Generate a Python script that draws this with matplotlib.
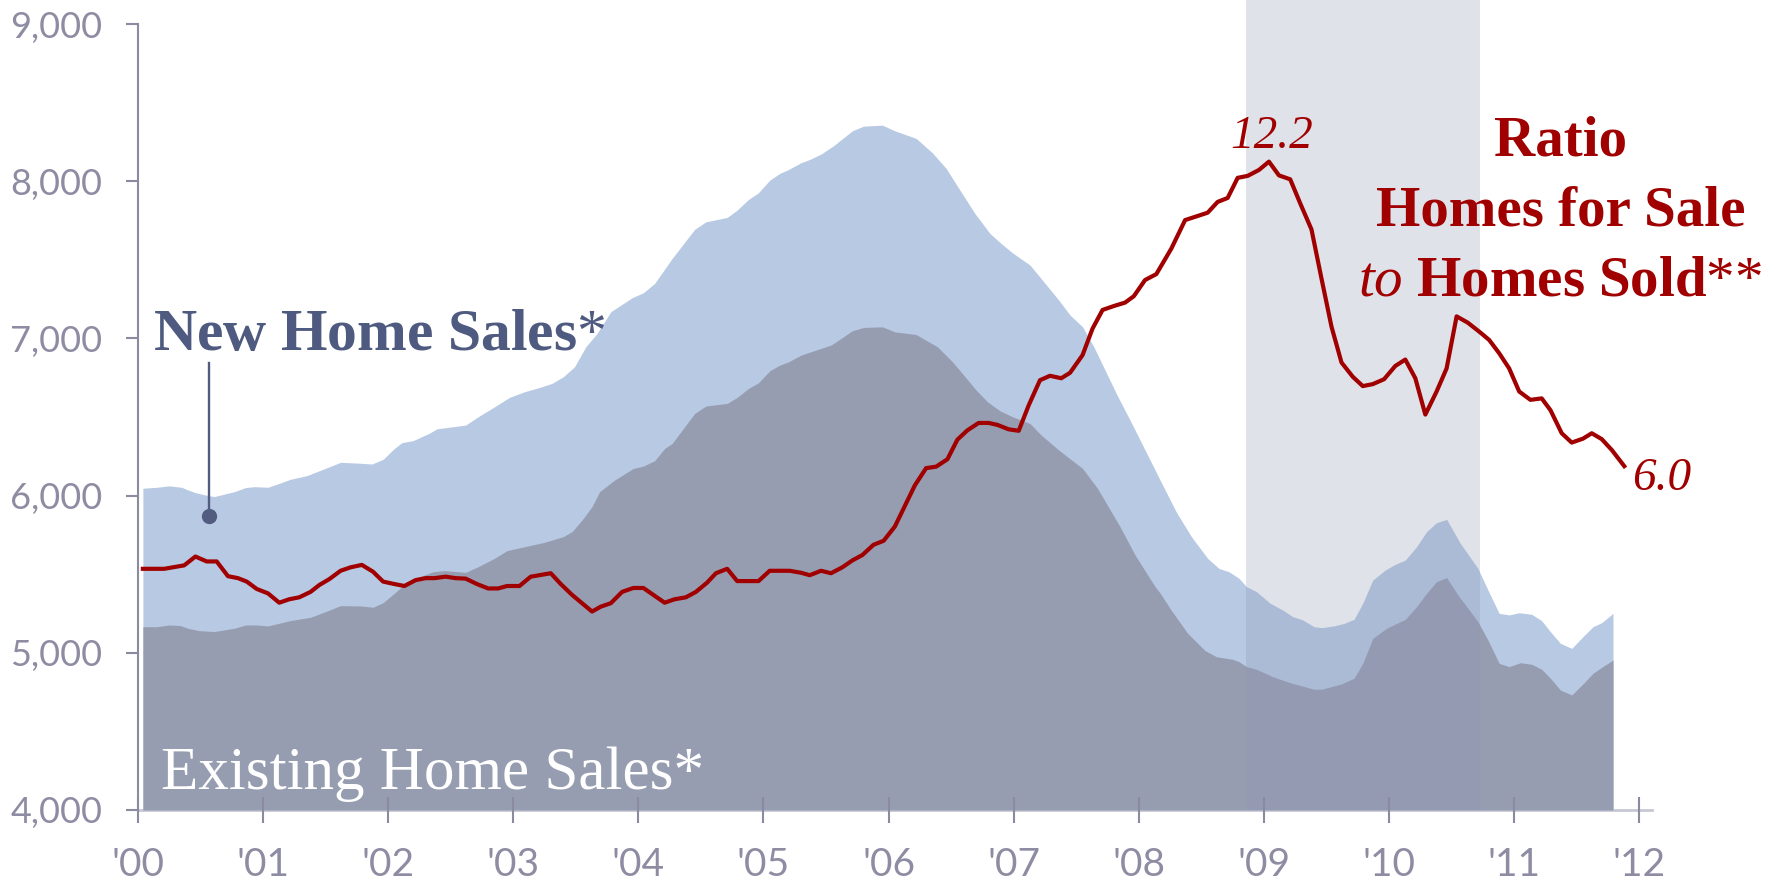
import numpy as np
import matplotlib
matplotlib.use("Agg")
import matplotlib.pyplot as plt

# years since Jan 2000 / sales in thousands (annual rate)
# top of the stack = existing + new home sales
top_t = [0.04, 0.15, 0.25, 0.35, 0.40, 0.46, 0.54, 0.61, 0.77, 0.86, 0.93, 1.04, 1.13, 1.22, 1.35,
         1.50, 1.62, 1.78, 1.87, 1.96, 2.05, 2.11, 2.20, 2.33, 2.39, 2.62, 2.72, 2.85, 2.97, 3.09,
         3.21, 3.31, 3.40, 3.49, 3.58, 3.67, 3.78, 3.95, 4.04, 4.13, 4.27, 4.45, 4.54, 4.71, 4.79,
         4.88, 4.96, 5.05, 5.13, 5.20, 5.30, 5.37, 5.46, 5.56, 5.71, 5.80, 5.95, 6.05, 6.22, 6.35,
         6.46, 6.57, 6.69, 6.81, 6.90, 6.99, 7.13, 7.24, 7.36, 7.45, 7.55, 7.64, 7.82, 7.97, 8.05,
         8.13, 8.17, 8.30, 8.42, 8.55, 8.64, 8.72, 8.80, 8.86, 8.94, 9.05, 9.15, 9.23, 9.31, 9.40,
         9.46, 9.56, 9.64, 9.72, 9.79, 9.87, 9.97, 10.05, 10.13, 10.22, 10.30, 10.38, 10.46, 10.57,
         10.71, 10.79, 10.88, 10.96, 11.04, 11.14, 11.22, 11.29, 11.37, 11.46, 11.55, 11.63, 11.70,
         11.79]
top_v = [6047, 6053, 6062, 6053, 6036, 6019, 6004, 5994, 6025, 6051, 6057, 6053, 6078, 6104, 6127,
         6174, 6212, 6206, 6201, 6231, 6300, 6337, 6350, 6397, 6425, 6449, 6502, 6565, 6625, 6661,
         6688, 6714, 6756, 6820, 6947, 7032, 7170, 7259, 7291, 7350, 7509, 7694, 7742, 7770, 7817,
         7884, 7927, 8007, 8050, 8075, 8118, 8139, 8173, 8226, 8321, 8351, 8357, 8321, 8273, 8181,
         8082, 7944, 7795, 7668, 7604, 7545, 7467, 7361, 7244, 7149, 7074, 6947, 6650, 6417, 6290,
         6163, 6099, 5895, 5739, 5601, 5537, 5516, 5474, 5421, 5389, 5315, 5272, 5230, 5209, 5166,
         5160, 5171, 5187, 5213, 5315, 5463, 5527, 5563, 5590, 5675, 5771, 5828, 5849, 5696,
         5537, 5400, 5251, 5241, 5255, 5245, 5204, 5134, 5060, 5028, 5103, 5166, 5192,
         5251]

exist_t = [0.04, 0.15, 0.25, 0.34, 0.40, 0.49, 0.61, 0.77, 0.86, 0.95, 1.04, 1.13, 1.22, 1.38, 1.50,
           1.62, 1.78, 1.88, 1.96, 2.05, 2.14, 2.27, 2.36, 2.45, 2.62, 2.72, 2.85, 2.95, 3.09, 3.24,
           3.40, 3.47, 3.55, 3.63, 3.69, 3.81, 3.96, 4.04, 4.13, 4.21, 4.27, 4.35, 4.45, 4.54, 4.71,
           4.79, 4.88, 4.96, 5.05, 5.13, 5.20, 5.30, 5.54, 5.62, 5.71, 5.80, 5.95, 6.05, 6.22, 6.39,
           6.51, 6.60, 6.70, 6.79, 6.89, 6.99, 7.13, 7.22, 7.36, 7.55, 7.67, 7.85, 7.97, 8.13, 8.17,
           8.26, 8.39, 8.53, 8.62, 8.75, 8.80, 8.86, 8.94, 9.07, 9.20, 9.40, 9.46, 9.62, 9.72, 9.79,
           9.87, 9.98, 10.13, 10.22, 10.30, 10.38, 10.46, 10.55, 10.71, 10.79, 10.88, 10.96, 11.05,
           11.14, 11.22, 11.29, 11.37, 11.46, 11.55, 11.63, 11.70, 11.79]
exist_v = [5166, 5166, 5177, 5173, 5156, 5141, 5135, 5156, 5177, 5177, 5171, 5188, 5205, 5226, 5262,
           5300, 5298, 5290, 5319, 5379, 5442, 5489, 5516, 5523, 5512, 5548, 5601, 5650, 5675, 5701,
           5739, 5771, 5845, 5930, 6025, 6099, 6173, 6188, 6222, 6300, 6332, 6417, 6523, 6570, 6587,
           6625, 6682, 6718, 6794, 6830, 6851, 6894, 6958, 7000, 7049, 7070, 7074, 7042, 7025, 6947,
           6852, 6767, 6671, 6597, 6540, 6502, 6459, 6385, 6290, 6173, 6046, 5802, 5622, 5421, 5380,
           5270, 5124, 5014, 4975, 4959, 4944, 4912, 4895, 4848, 4812, 4768, 4768, 4802, 4838, 4933,
           5092, 5156, 5213, 5294, 5378, 5453, 5478, 5368, 5198, 5082, 4933, 4912, 4937,
           4927, 4895, 4838, 4763, 4732, 4802, 4870, 4908, 4954]

# ratio of homes for sale to homes sold (months)
ratio_t = [0.04, 0.21, 0.37, 0.46, 0.55, 0.63, 0.72, 0.80, 0.87, 0.95, 1.04, 1.13, 1.21, 1.29, 1.38,
           1.45, 1.53, 1.62, 1.70, 1.79, 1.88, 1.96, 2.05, 2.13, 2.22, 2.30, 2.37, 2.46, 2.54, 2.62,
           2.71, 2.80, 2.88, 2.95, 3.05, 3.14, 3.21, 3.30, 3.38, 3.47, 3.55, 3.63, 3.70, 3.78, 3.87,
           3.96, 4.04, 4.13, 4.21, 4.29, 4.38, 4.46, 4.55, 4.62, 4.71, 4.79, 4.87, 4.96, 5.05, 5.13,
           5.21, 5.30, 5.37, 5.46, 5.54, 5.63, 5.71, 5.79, 5.88, 5.96, 6.05, 6.14, 6.21, 6.30, 6.38,
           6.47, 6.55, 6.63, 6.72, 6.80, 6.87, 6.96, 7.04, 7.12, 7.21, 7.29, 7.38, 7.45, 7.55, 7.63,
           7.71, 7.80, 7.89, 7.96, 8.05, 8.14, 8.26, 8.37, 8.55, 8.63, 8.71, 8.79, 8.87, 8.96, 9.04,
           9.12, 9.21, 9.29, 9.38, 9.46, 9.54, 9.62, 9.71, 9.79, 9.87, 9.96, 10.05, 10.13, 10.21, 10.29,
           10.38, 10.46, 10.54, 10.63, 10.72, 10.80, 10.88, 10.96, 11.04, 11.13, 11.22, 11.29, 11.38,
           11.46, 11.55, 11.62, 11.70, 11.78, 11.88]
ratio_v = [3.91, 3.91, 3.98, 4.16, 4.06, 4.06, 3.76, 3.72, 3.65, 3.50, 3.41, 3.22, 3.29, 3.33, 3.44,
           3.58, 3.70, 3.87, 3.94, 3.99, 3.85, 3.65, 3.60, 3.56, 3.68, 3.72, 3.72, 3.75, 3.72, 3.71,
           3.60, 3.51, 3.51, 3.56, 3.56, 3.75, 3.78, 3.82, 3.60, 3.38, 3.21, 3.04, 3.14, 3.21, 3.44,
           3.52, 3.52, 3.36, 3.22, 3.29, 3.33, 3.44, 3.63, 3.82, 3.91, 3.66, 3.66, 3.66, 3.87, 3.87,
           3.87, 3.83, 3.78, 3.87, 3.82, 3.94, 4.08, 4.19, 4.40, 4.48, 4.77, 5.24, 5.61, 5.96, 5.99,
           6.14, 6.54, 6.73, 6.88, 6.88, 6.84, 6.75, 6.72, 7.24, 7.75, 7.84, 7.79, 7.90, 8.26, 8.80,
           9.18, 9.26, 9.33, 9.46, 9.79, 9.91, 10.43, 11.01, 11.16, 11.38, 11.46, 11.87, 11.91, 12.03, 12.2,
           11.92, 11.84, 11.35, 10.82, 9.82, 8.84, 8.11, 7.82, 7.63, 7.67, 7.77, 8.04, 8.17, 7.79, 7.05,
           7.52, 7.99, 9.05, 8.92, 8.74, 8.57, 8.30, 7.99, 7.52, 7.35, 7.38, 7.14, 6.67,
           6.48, 6.56, 6.67, 6.55, 6.33, 6.0]

years = list(range(2000, 2013))
year_labels = ["'00", "'01", "'02", "'03", "'04", "'05", "'06", "'07", "'08", "'09", "'10", "'11", "'12"]
sales_ticks = [4000, 5000, 6000, 7000, 8000, 9000]
recession = (2008.86, 2010.73)

plt.rcParams['font.family'] = ['Lato', 'DejaVu Sans']
plt.rcParams['mathtext.fontset'] = 'custom'
plt.rcParams['mathtext.rm'] = 'Liberation Serif'
plt.rcParams['mathtext.bf'] = 'Liberation Serif:bold'
plt.rcParams['mathtext.it'] = 'Liberation Serif:italic'

grey = '#8c8aa0'
red = '#a00000'
slate = '#4f5a80'

fig = plt.figure(figsize=(17.79, 8.83), dpi=100)
ax = fig.add_axes([0.0775, 0.0827, 0.851, 0.890])

ax.fill_between(2000 + np.array(top_t), 4000, top_v, color='#b8c9e3', lw=0, zorder=1)
ax.fill_between(2000 + np.array(exist_t), 4000, exist_v, color='#979db1', lw=0, zorder=2)
ax.axvspan(recession[0], recession[1], ymin=0, ymax=1.031, color='#8994b1', alpha=0.27,
           lw=0, zorder=3, clip_on=False)

ax.set_xlim(2000, 2012.1)
ax.set_ylim(4000, 9000)
for s in ['top', 'right']:
    ax.spines[s].set_visible(False)
ax.spines['left'].set_color(grey)
ax.spines['left'].set_linewidth(1.5)
ax.spines['bottom'].set_color('#c8c8d4')
ax.spines['bottom'].set_linewidth(2)
ax.spines['bottom'].set_zorder(0)
ax.xaxis.set_zorder(4)

ax.set_yticks(sales_ticks)
ax.set_yticklabels(['{:,}'.format(v) for v in sales_ticks])
ax.set_xticks(years)
ax.set_xticklabels(year_labels)
ax.tick_params(axis='y', direction='out', length=8.6, width=1.5, color=grey,
               labelsize=26, labelcolor='#8e8ca3', pad=17)
ax.tick_params(axis='x', direction='inout', length=19, width=1.5, color=grey,
               labelsize=28, labelcolor='#8e8ca3', pad=17)

# ratio on its own scale
ax2 = ax.twinx()
ax2.set_ylim(-1, 15)
ax2.axis('off')
ax2.plot(2000 + np.array(ratio_t), ratio_v, color=red, lw=3.0, zorder=5)

# labels
ax.text(2000.12, 6926, r"$\mathbf{New\ Home\ Sales}$*", family='Liberation Serif', fontsize=43,
        color=slate, ha='left', va='baseline', zorder=6)
ax.plot([2000.57, 2000.57], [6843, 5870], color='#525c80', lw=1.7, zorder=6)
ax.plot([2000.57], [5870], 'o', ms=10, color='#525c80', zorder=6)

ax.text(2000.185, 4134, "Existing Home Sales*", family='Liberation Serif', fontsize=44,
        color='white', ha='left', va='baseline', zorder=6)

ax.text(2009.06, 8211, "12.2", family='Liberation Serif', style='italic', fontsize=34,
        color=red, ha='center', va='baseline', zorder=6)
ax.text(2011.94, 6036, "6.0", family='Liberation Serif', style='italic', fontsize=34,
        color=red, ha='left', va='baseline', zorder=6)

ax.text(2011.37, 8167, "Ratio", family='Liberation Serif', weight='bold', fontsize=41,
        color=red, ha='center', va='baseline', zorder=6)
ax.text(2011.37, 7721, "Homes for Sale", family='Liberation Serif', weight='bold', fontsize=41,
        color=red, ha='center', va='baseline', zorder=6)
ax.text(2011.37, 7276, r"$\mathit{to}$ $\mathbf{Homes\ Sold}$**", family='Liberation Serif',
        fontsize=41, color=red, ha='center', va='baseline', zorder=6)

fig.savefig('out.png', dpi=100)
